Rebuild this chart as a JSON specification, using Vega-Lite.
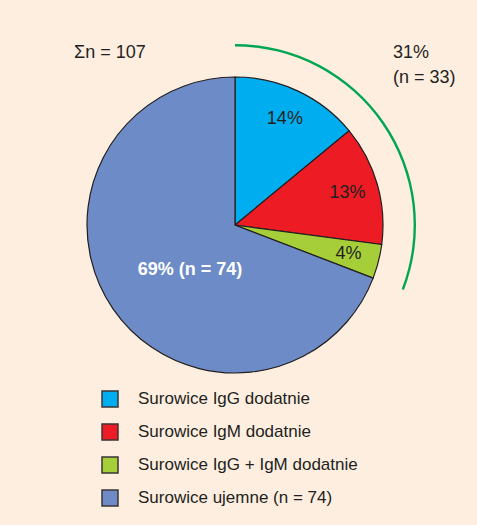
{
  "$schema": "https://vega.github.io/schema/vega-lite/v6.json",
  "autosize": "none",
  "width": 454,
  "height": 428,
  "padding": {"left": 8, "top": 11, "right": 15, "bottom": 86},
  "background": "#FDEEE0",
  "config": {"view": {"stroke": null}, "font": "Liberation Sans"},
  "datasets": {
    "slices": [
      {"category": "Surowice IgG dodatnie", "n": 15, "order": 1, "label": "14%"},
      {"category": "Surowice IgM dodatnie", "n": 14, "order": 2, "label": "13%"},
      {"category": "Surowice IgG + IgM dodatnie", "n": 4, "order": 3, "label": "4%"},
      {"category": "Surowice ujemne (n = 74)", "n": 74, "order": 4, "label": "69% (n = 74)"}
    ],
    "positive": [{"start": 0, "end": 33, "label": ["31%", "(n = 33)"]}],
    "total": [{"label": "Σn = 107"}]
  },
  "layer": [
    {
      "data": {"name": "slices"},
      "mark": {"type": "arc", "outerRadius": 148, "stroke": "#231F20", "strokeWidth": 1.2},
      "encoding": {
        "theta": {"field": "n", "type": "quantitative", "stack": true},
        "order": {"field": "order", "type": "quantitative"},
        "color": {
          "field": "category",
          "type": "nominal",
          "sort": null,
          "scale": {
            "domain": ["Surowice IgG dodatnie", "Surowice IgM dodatnie", "Surowice IgG + IgM dodatnie", "Surowice ujemne (n = 74)"],
            "range": ["#00AEEF", "#ED1C24", "#A6CE39", "#6D8CC7"]
          },
          "legend": {
            "orient": "none",
            "legendX": 93,
            "legendY": 379,
            "title": null,
            "padding": 0,
            "symbolType": "square",
            "symbolSize": 256,
            "symbolStrokeColor": "#3A3536",
            "symbolStrokeWidth": 1.5,
            "symbolOpacity": 1,
            "labelFont": "Liberation Sans",
            "labelFontSize": 17,
            "labelColor": "#231F20",
            "labelOffset": 19,
            "labelLimit": 400,
            "rowPadding": 11
          }
        }
      }
    },
    {
      "data": {"name": "slices"},
      "mark": {"type": "text", "radius": 117, "fontSize": 18, "color": "#231F20"},
      "encoding": {
        "theta": {"field": "n", "type": "quantitative", "stack": true},
        "order": {"field": "order", "type": "quantitative"},
        "text": {"field": "label"},
        "opacity": {"condition": {"test": "datum.n > 50", "value": 0}, "value": 1}
      }
    },
    {
      "data": {"name": "slices"},
      "mark": {"type": "text", "radius": 63, "dx": 7, "dy": 9, "fontSize": 18, "fontWeight": "bold", "color": "#FFFFFF"},
      "encoding": {
        "theta": {"field": "n", "type": "quantitative", "stack": true},
        "order": {"field": "order", "type": "quantitative"},
        "text": {"field": "label"},
        "opacity": {"condition": {"test": "datum.n > 50", "value": 1}, "value": 0}
      }
    },
    {
      "data": {"name": "positive"},
      "mark": {"type": "arc", "outerRadius": 181, "innerRadius": 178.6, "color": "#00A651"},
      "encoding": {
        "theta": {"field": "start", "type": "quantitative"},
        "theta2": {"field": "end"}
      }
    },
    {
      "data": {"name": "positive"},
      "mark": {"type": "text", "x": 385, "y": 47, "align": "left", "baseline": "alphabetic", "fontSize": 18, "lineHeight": 25, "color": "#231F20"},
      "encoding": {"text": {"field": "label"}}
    },
    {
      "data": {"name": "total"},
      "mark": {"type": "text", "x": 66, "y": 47, "align": "left", "baseline": "alphabetic", "fontSize": 18, "color": "#231F20"},
      "encoding": {"text": {"field": "label"}}
    }
  ]
}
